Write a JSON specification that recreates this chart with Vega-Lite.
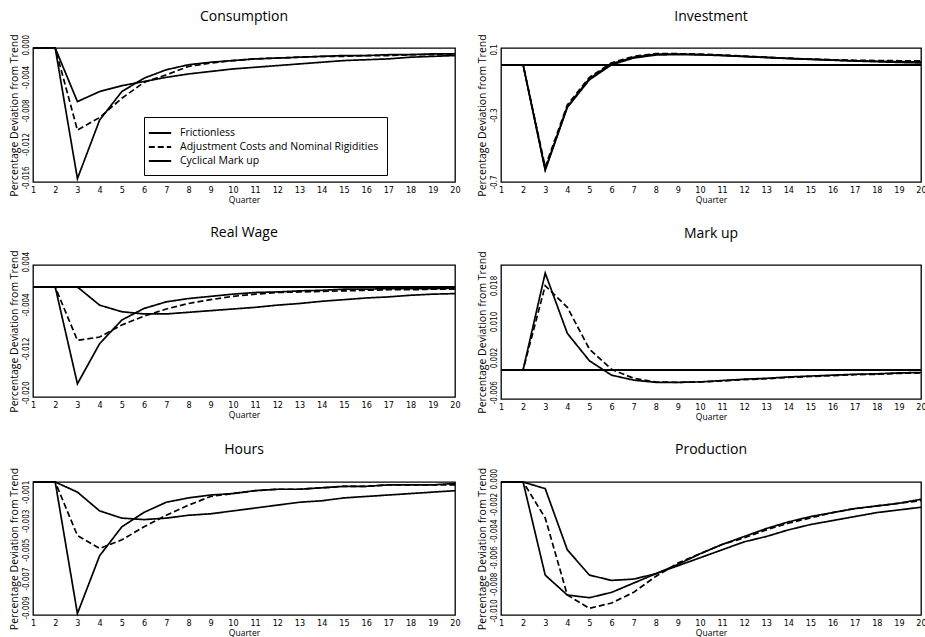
{
  "$schema": "https://vega.github.io/schema/vega-lite/v6.json",
  "background": "white",
  "padding": {"left": 8, "top": 9, "right": 0, "bottom": 0},
  "config": {
    "font": "Open Sans",
    "view": {"stroke": "black", "strokeWidth": 1.3},
    "axis": {
      "grid": false, "ticks": false, "domain": false,
      "labelColor": "black", "titleColor": "black",
      "labelFont": "Liberation Sans Narrow, DejaVu Sans Condensed, sans-serif",
      "titleFont": "Open Sans", "titleFontWeight": "normal",
      "labelOverlap": false
    },
    "axisX": {"labelFontSize": 9, "labelPadding": 3, "titleFontSize": 8.5, "titlePadding": 1, "labelFlush": false},
    "axisY": {"labelFontSize": 8, "labelAngle": 270, "labelAlign": "left", "labelBaseline": "bottom", "labelOffset": 7, "labelPadding": 3, "titleFontSize": 10.5, "titlePadding": 3},
    "title": {"fontSize": 14, "fontWeight": "normal", "font": "Open Sans", "offset": 10, "color": "black"}
  },
  "data": {"values": [
    {"panel":"Consumption","series":"Frictionless","quarter":1,"value":0},
    {"panel":"Consumption","series":"Frictionless","quarter":2,"value":0},
    {"panel":"Consumption","series":"Frictionless","quarter":3,"value":-0.0064},
    {"panel":"Consumption","series":"Frictionless","quarter":4,"value":-0.0052},
    {"panel":"Consumption","series":"Frictionless","quarter":5,"value":-0.0045},
    {"panel":"Consumption","series":"Frictionless","quarter":6,"value":-0.0040},
    {"panel":"Consumption","series":"Frictionless","quarter":7,"value":-0.0035},
    {"panel":"Consumption","series":"Frictionless","quarter":8,"value":-0.0031},
    {"panel":"Consumption","series":"Frictionless","quarter":9,"value":-0.0028},
    {"panel":"Consumption","series":"Frictionless","quarter":10,"value":-0.0025},
    {"panel":"Consumption","series":"Frictionless","quarter":11,"value":-0.0023},
    {"panel":"Consumption","series":"Frictionless","quarter":12,"value":-0.0021},
    {"panel":"Consumption","series":"Frictionless","quarter":13,"value":-0.0019},
    {"panel":"Consumption","series":"Frictionless","quarter":14,"value":-0.0017},
    {"panel":"Consumption","series":"Frictionless","quarter":15,"value":-0.0015},
    {"panel":"Consumption","series":"Frictionless","quarter":16,"value":-0.0014},
    {"panel":"Consumption","series":"Frictionless","quarter":17,"value":-0.0013},
    {"panel":"Consumption","series":"Frictionless","quarter":18,"value":-0.0011},
    {"panel":"Consumption","series":"Frictionless","quarter":19,"value":-0.0010},
    {"panel":"Consumption","series":"Frictionless","quarter":20,"value":-0.0009},
    {"panel":"Consumption","series":"Adjustment Costs and Nominal Rigidities","quarter":1,"value":0},
    {"panel":"Consumption","series":"Adjustment Costs and Nominal Rigidities","quarter":2,"value":0},
    {"panel":"Consumption","series":"Adjustment Costs and Nominal Rigidities","quarter":3,"value":-0.0098},
    {"panel":"Consumption","series":"Adjustment Costs and Nominal Rigidities","quarter":4,"value":-0.0083},
    {"panel":"Consumption","series":"Adjustment Costs and Nominal Rigidities","quarter":5,"value":-0.0060},
    {"panel":"Consumption","series":"Adjustment Costs and Nominal Rigidities","quarter":6,"value":-0.0041},
    {"panel":"Consumption","series":"Adjustment Costs and Nominal Rigidities","quarter":7,"value":-0.0032},
    {"panel":"Consumption","series":"Adjustment Costs and Nominal Rigidities","quarter":8,"value":-0.0022},
    {"panel":"Consumption","series":"Adjustment Costs and Nominal Rigidities","quarter":9,"value":-0.0018},
    {"panel":"Consumption","series":"Adjustment Costs and Nominal Rigidities","quarter":10,"value":-0.0015},
    {"panel":"Consumption","series":"Adjustment Costs and Nominal Rigidities","quarter":11,"value":-0.0013},
    {"panel":"Consumption","series":"Adjustment Costs and Nominal Rigidities","quarter":12,"value":-0.0012},
    {"panel":"Consumption","series":"Adjustment Costs and Nominal Rigidities","quarter":13,"value":-0.0011},
    {"panel":"Consumption","series":"Adjustment Costs and Nominal Rigidities","quarter":14,"value":-0.0010},
    {"panel":"Consumption","series":"Adjustment Costs and Nominal Rigidities","quarter":15,"value":-0.0010},
    {"panel":"Consumption","series":"Adjustment Costs and Nominal Rigidities","quarter":16,"value":-0.0009},
    {"panel":"Consumption","series":"Adjustment Costs and Nominal Rigidities","quarter":17,"value":-0.0009},
    {"panel":"Consumption","series":"Adjustment Costs and Nominal Rigidities","quarter":18,"value":-0.0008},
    {"panel":"Consumption","series":"Adjustment Costs and Nominal Rigidities","quarter":19,"value":-0.0008},
    {"panel":"Consumption","series":"Adjustment Costs and Nominal Rigidities","quarter":20,"value":-0.0008},
    {"panel":"Consumption","series":"Cyclical Mark up","quarter":1,"value":0},
    {"panel":"Consumption","series":"Cyclical Mark up","quarter":2,"value":0},
    {"panel":"Consumption","series":"Cyclical Mark up","quarter":3,"value":-0.0156},
    {"panel":"Consumption","series":"Cyclical Mark up","quarter":4,"value":-0.0086},
    {"panel":"Consumption","series":"Cyclical Mark up","quarter":5,"value":-0.0052},
    {"panel":"Consumption","series":"Cyclical Mark up","quarter":6,"value":-0.0036},
    {"panel":"Consumption","series":"Cyclical Mark up","quarter":7,"value":-0.0026},
    {"panel":"Consumption","series":"Cyclical Mark up","quarter":8,"value":-0.0020},
    {"panel":"Consumption","series":"Cyclical Mark up","quarter":9,"value":-0.0017},
    {"panel":"Consumption","series":"Cyclical Mark up","quarter":10,"value":-0.0015},
    {"panel":"Consumption","series":"Cyclical Mark up","quarter":11,"value":-0.0013},
    {"panel":"Consumption","series":"Cyclical Mark up","quarter":12,"value":-0.0012},
    {"panel":"Consumption","series":"Cyclical Mark up","quarter":13,"value":-0.0011},
    {"panel":"Consumption","series":"Cyclical Mark up","quarter":14,"value":-0.0010},
    {"panel":"Consumption","series":"Cyclical Mark up","quarter":15,"value":-0.0009},
    {"panel":"Consumption","series":"Cyclical Mark up","quarter":16,"value":-0.0009},
    {"panel":"Consumption","series":"Cyclical Mark up","quarter":17,"value":-0.0008},
    {"panel":"Consumption","series":"Cyclical Mark up","quarter":18,"value":-0.0008},
    {"panel":"Consumption","series":"Cyclical Mark up","quarter":19,"value":-0.0007},
    {"panel":"Consumption","series":"Cyclical Mark up","quarter":20,"value":-0.0007},

    {"panel":"Investment","series":"Frictionless","quarter":1,"value":0},
    {"panel":"Investment","series":"Frictionless","quarter":2,"value":0},
    {"panel":"Investment","series":"Frictionless","quarter":3,"value":-0.63},
    {"panel":"Investment","series":"Frictionless","quarter":4,"value":-0.255},
    {"panel":"Investment","series":"Frictionless","quarter":5,"value":-0.09},
    {"panel":"Investment","series":"Frictionless","quarter":6,"value":0.0},
    {"panel":"Investment","series":"Frictionless","quarter":7,"value":0.04},
    {"panel":"Investment","series":"Frictionless","quarter":8,"value":0.058},
    {"panel":"Investment","series":"Frictionless","quarter":9,"value":0.061},
    {"panel":"Investment","series":"Frictionless","quarter":10,"value":0.059},
    {"panel":"Investment","series":"Frictionless","quarter":11,"value":0.055},
    {"panel":"Investment","series":"Frictionless","quarter":12,"value":0.049},
    {"panel":"Investment","series":"Frictionless","quarter":13,"value":0.043},
    {"panel":"Investment","series":"Frictionless","quarter":14,"value":0.037},
    {"panel":"Investment","series":"Frictionless","quarter":15,"value":0.032},
    {"panel":"Investment","series":"Frictionless","quarter":16,"value":0.027},
    {"panel":"Investment","series":"Frictionless","quarter":17,"value":0.022},
    {"panel":"Investment","series":"Frictionless","quarter":18,"value":0.018},
    {"panel":"Investment","series":"Frictionless","quarter":19,"value":0.014},
    {"panel":"Investment","series":"Frictionless","quarter":20,"value":0.011},
    {"panel":"Investment","series":"Adjustment Costs and Nominal Rigidities","quarter":1,"value":0},
    {"panel":"Investment","series":"Adjustment Costs and Nominal Rigidities","quarter":2,"value":0},
    {"panel":"Investment","series":"Adjustment Costs and Nominal Rigidities","quarter":3,"value":-0.61},
    {"panel":"Investment","series":"Adjustment Costs and Nominal Rigidities","quarter":4,"value":-0.24},
    {"panel":"Investment","series":"Adjustment Costs and Nominal Rigidities","quarter":5,"value":-0.075},
    {"panel":"Investment","series":"Adjustment Costs and Nominal Rigidities","quarter":6,"value":0.012},
    {"panel":"Investment","series":"Adjustment Costs and Nominal Rigidities","quarter":7,"value":0.05},
    {"panel":"Investment","series":"Adjustment Costs and Nominal Rigidities","quarter":8,"value":0.066},
    {"panel":"Investment","series":"Adjustment Costs and Nominal Rigidities","quarter":9,"value":0.066},
    {"panel":"Investment","series":"Adjustment Costs and Nominal Rigidities","quarter":10,"value":0.063},
    {"panel":"Investment","series":"Adjustment Costs and Nominal Rigidities","quarter":11,"value":0.058},
    {"panel":"Investment","series":"Adjustment Costs and Nominal Rigidities","quarter":12,"value":0.052},
    {"panel":"Investment","series":"Adjustment Costs and Nominal Rigidities","quarter":13,"value":0.045},
    {"panel":"Investment","series":"Adjustment Costs and Nominal Rigidities","quarter":14,"value":0.039},
    {"panel":"Investment","series":"Adjustment Costs and Nominal Rigidities","quarter":15,"value":0.034},
    {"panel":"Investment","series":"Adjustment Costs and Nominal Rigidities","quarter":16,"value":0.030},
    {"panel":"Investment","series":"Adjustment Costs and Nominal Rigidities","quarter":17,"value":0.027},
    {"panel":"Investment","series":"Adjustment Costs and Nominal Rigidities","quarter":18,"value":0.025},
    {"panel":"Investment","series":"Adjustment Costs and Nominal Rigidities","quarter":19,"value":0.024},
    {"panel":"Investment","series":"Adjustment Costs and Nominal Rigidities","quarter":20,"value":0.023},
    {"panel":"Investment","series":"Cyclical Mark up","quarter":1,"value":0},
    {"panel":"Investment","series":"Cyclical Mark up","quarter":2,"value":0},
    {"panel":"Investment","series":"Cyclical Mark up","quarter":3,"value":-0.625},
    {"panel":"Investment","series":"Cyclical Mark up","quarter":4,"value":-0.25},
    {"panel":"Investment","series":"Cyclical Mark up","quarter":5,"value":-0.083},
    {"panel":"Investment","series":"Cyclical Mark up","quarter":6,"value":0.006},
    {"panel":"Investment","series":"Cyclical Mark up","quarter":7,"value":0.045},
    {"panel":"Investment","series":"Cyclical Mark up","quarter":8,"value":0.063},
    {"panel":"Investment","series":"Cyclical Mark up","quarter":9,"value":0.064},
    {"panel":"Investment","series":"Cyclical Mark up","quarter":10,"value":0.061},
    {"panel":"Investment","series":"Cyclical Mark up","quarter":11,"value":0.056},
    {"panel":"Investment","series":"Cyclical Mark up","quarter":12,"value":0.050},
    {"panel":"Investment","series":"Cyclical Mark up","quarter":13,"value":0.044},
    {"panel":"Investment","series":"Cyclical Mark up","quarter":14,"value":0.038},
    {"panel":"Investment","series":"Cyclical Mark up","quarter":15,"value":0.033},
    {"panel":"Investment","series":"Cyclical Mark up","quarter":16,"value":0.028},
    {"panel":"Investment","series":"Cyclical Mark up","quarter":17,"value":0.024},
    {"panel":"Investment","series":"Cyclical Mark up","quarter":18,"value":0.021},
    {"panel":"Investment","series":"Cyclical Mark up","quarter":19,"value":0.019},
    {"panel":"Investment","series":"Cyclical Mark up","quarter":20,"value":0.017},

    {"panel":"Real Wage","series":"Frictionless","quarter":1,"value":0},
    {"panel":"Real Wage","series":"Frictionless","quarter":2,"value":0},
    {"panel":"Real Wage","series":"Frictionless","quarter":3,"value":0},
    {"panel":"Real Wage","series":"Frictionless","quarter":4,"value":-0.0033},
    {"panel":"Real Wage","series":"Frictionless","quarter":5,"value":-0.0045},
    {"panel":"Real Wage","series":"Frictionless","quarter":6,"value":-0.0049},
    {"panel":"Real Wage","series":"Frictionless","quarter":7,"value":-0.0049},
    {"panel":"Real Wage","series":"Frictionless","quarter":8,"value":-0.0046},
    {"panel":"Real Wage","series":"Frictionless","quarter":9,"value":-0.0043},
    {"panel":"Real Wage","series":"Frictionless","quarter":10,"value":-0.0040},
    {"panel":"Real Wage","series":"Frictionless","quarter":11,"value":-0.0037},
    {"panel":"Real Wage","series":"Frictionless","quarter":12,"value":-0.0033},
    {"panel":"Real Wage","series":"Frictionless","quarter":13,"value":-0.0030},
    {"panel":"Real Wage","series":"Frictionless","quarter":14,"value":-0.0026},
    {"panel":"Real Wage","series":"Frictionless","quarter":15,"value":-0.0023},
    {"panel":"Real Wage","series":"Frictionless","quarter":16,"value":-0.0020},
    {"panel":"Real Wage","series":"Frictionless","quarter":17,"value":-0.0018},
    {"panel":"Real Wage","series":"Frictionless","quarter":18,"value":-0.0015},
    {"panel":"Real Wage","series":"Frictionless","quarter":19,"value":-0.0013},
    {"panel":"Real Wage","series":"Frictionless","quarter":20,"value":-0.0012},
    {"panel":"Real Wage","series":"Adjustment Costs and Nominal Rigidities","quarter":1,"value":0},
    {"panel":"Real Wage","series":"Adjustment Costs and Nominal Rigidities","quarter":2,"value":0},
    {"panel":"Real Wage","series":"Adjustment Costs and Nominal Rigidities","quarter":3,"value":-0.0097},
    {"panel":"Real Wage","series":"Adjustment Costs and Nominal Rigidities","quarter":4,"value":-0.0091},
    {"panel":"Real Wage","series":"Adjustment Costs and Nominal Rigidities","quarter":5,"value":-0.0069},
    {"panel":"Real Wage","series":"Adjustment Costs and Nominal Rigidities","quarter":6,"value":-0.0053},
    {"panel":"Real Wage","series":"Adjustment Costs and Nominal Rigidities","quarter":7,"value":-0.0040},
    {"panel":"Real Wage","series":"Adjustment Costs and Nominal Rigidities","quarter":8,"value":-0.0030},
    {"panel":"Real Wage","series":"Adjustment Costs and Nominal Rigidities","quarter":9,"value":-0.0023},
    {"panel":"Real Wage","series":"Adjustment Costs and Nominal Rigidities","quarter":10,"value":-0.0017},
    {"panel":"Real Wage","series":"Adjustment Costs and Nominal Rigidities","quarter":11,"value":-0.0013},
    {"panel":"Real Wage","series":"Adjustment Costs and Nominal Rigidities","quarter":12,"value":-0.0010},
    {"panel":"Real Wage","series":"Adjustment Costs and Nominal Rigidities","quarter":13,"value":-0.0009},
    {"panel":"Real Wage","series":"Adjustment Costs and Nominal Rigidities","quarter":14,"value":-0.0008},
    {"panel":"Real Wage","series":"Adjustment Costs and Nominal Rigidities","quarter":15,"value":-0.0007},
    {"panel":"Real Wage","series":"Adjustment Costs and Nominal Rigidities","quarter":16,"value":-0.0006},
    {"panel":"Real Wage","series":"Adjustment Costs and Nominal Rigidities","quarter":17,"value":-0.0005},
    {"panel":"Real Wage","series":"Adjustment Costs and Nominal Rigidities","quarter":18,"value":-0.0005},
    {"panel":"Real Wage","series":"Adjustment Costs and Nominal Rigidities","quarter":19,"value":-0.0004},
    {"panel":"Real Wage","series":"Adjustment Costs and Nominal Rigidities","quarter":20,"value":-0.0004},
    {"panel":"Real Wage","series":"Cyclical Mark up","quarter":1,"value":0},
    {"panel":"Real Wage","series":"Cyclical Mark up","quarter":2,"value":0},
    {"panel":"Real Wage","series":"Cyclical Mark up","quarter":3,"value":-0.0176},
    {"panel":"Real Wage","series":"Cyclical Mark up","quarter":4,"value":-0.0103},
    {"panel":"Real Wage","series":"Cyclical Mark up","quarter":5,"value":-0.0060},
    {"panel":"Real Wage","series":"Cyclical Mark up","quarter":6,"value":-0.0039},
    {"panel":"Real Wage","series":"Cyclical Mark up","quarter":7,"value":-0.0027},
    {"panel":"Real Wage","series":"Cyclical Mark up","quarter":8,"value":-0.0021},
    {"panel":"Real Wage","series":"Cyclical Mark up","quarter":9,"value":-0.0017},
    {"panel":"Real Wage","series":"Cyclical Mark up","quarter":10,"value":-0.0013},
    {"panel":"Real Wage","series":"Cyclical Mark up","quarter":11,"value":-0.0010},
    {"panel":"Real Wage","series":"Cyclical Mark up","quarter":12,"value":-0.0009},
    {"panel":"Real Wage","series":"Cyclical Mark up","quarter":13,"value":-0.0007},
    {"panel":"Real Wage","series":"Cyclical Mark up","quarter":14,"value":-0.0006},
    {"panel":"Real Wage","series":"Cyclical Mark up","quarter":15,"value":-0.0004},
    {"panel":"Real Wage","series":"Cyclical Mark up","quarter":16,"value":-0.0004},
    {"panel":"Real Wage","series":"Cyclical Mark up","quarter":17,"value":-0.0003},
    {"panel":"Real Wage","series":"Cyclical Mark up","quarter":18,"value":-0.0003},
    {"panel":"Real Wage","series":"Cyclical Mark up","quarter":19,"value":-0.0003},
    {"panel":"Real Wage","series":"Cyclical Mark up","quarter":20,"value":-0.0002},

    {"panel":"Mark up","series":"Frictionless","quarter":1,"value":0},
    {"panel":"Mark up","series":"Frictionless","quarter":2,"value":0},
    {"panel":"Mark up","series":"Frictionless","quarter":3,"value":0},
    {"panel":"Mark up","series":"Frictionless","quarter":4,"value":0},
    {"panel":"Mark up","series":"Frictionless","quarter":5,"value":0},
    {"panel":"Mark up","series":"Frictionless","quarter":6,"value":0},
    {"panel":"Mark up","series":"Frictionless","quarter":7,"value":0},
    {"panel":"Mark up","series":"Frictionless","quarter":8,"value":0},
    {"panel":"Mark up","series":"Frictionless","quarter":9,"value":0},
    {"panel":"Mark up","series":"Frictionless","quarter":10,"value":0},
    {"panel":"Mark up","series":"Frictionless","quarter":11,"value":0},
    {"panel":"Mark up","series":"Frictionless","quarter":12,"value":0},
    {"panel":"Mark up","series":"Frictionless","quarter":13,"value":0},
    {"panel":"Mark up","series":"Frictionless","quarter":14,"value":0},
    {"panel":"Mark up","series":"Frictionless","quarter":15,"value":0},
    {"panel":"Mark up","series":"Frictionless","quarter":16,"value":0},
    {"panel":"Mark up","series":"Frictionless","quarter":17,"value":0},
    {"panel":"Mark up","series":"Frictionless","quarter":18,"value":0},
    {"panel":"Mark up","series":"Frictionless","quarter":19,"value":0},
    {"panel":"Mark up","series":"Frictionless","quarter":20,"value":0},
    {"panel":"Mark up","series":"Adjustment Costs and Nominal Rigidities","quarter":1,"value":0},
    {"panel":"Mark up","series":"Adjustment Costs and Nominal Rigidities","quarter":2,"value":0},
    {"panel":"Mark up","series":"Adjustment Costs and Nominal Rigidities","quarter":3,"value":0.0187},
    {"panel":"Mark up","series":"Adjustment Costs and Nominal Rigidities","quarter":4,"value":0.0139},
    {"panel":"Mark up","series":"Adjustment Costs and Nominal Rigidities","quarter":5,"value":0.0046},
    {"panel":"Mark up","series":"Adjustment Costs and Nominal Rigidities","quarter":6,"value":0.0001},
    {"panel":"Mark up","series":"Adjustment Costs and Nominal Rigidities","quarter":7,"value":-0.0019},
    {"panel":"Mark up","series":"Adjustment Costs and Nominal Rigidities","quarter":8,"value":-0.0027},
    {"panel":"Mark up","series":"Adjustment Costs and Nominal Rigidities","quarter":9,"value":-0.0028},
    {"panel":"Mark up","series":"Adjustment Costs and Nominal Rigidities","quarter":10,"value":-0.0027},
    {"panel":"Mark up","series":"Adjustment Costs and Nominal Rigidities","quarter":11,"value":-0.0025},
    {"panel":"Mark up","series":"Adjustment Costs and Nominal Rigidities","quarter":12,"value":-0.0022},
    {"panel":"Mark up","series":"Adjustment Costs and Nominal Rigidities","quarter":13,"value":-0.0020},
    {"panel":"Mark up","series":"Adjustment Costs and Nominal Rigidities","quarter":14,"value":-0.0017},
    {"panel":"Mark up","series":"Adjustment Costs and Nominal Rigidities","quarter":15,"value":-0.0015},
    {"panel":"Mark up","series":"Adjustment Costs and Nominal Rigidities","quarter":16,"value":-0.0013},
    {"panel":"Mark up","series":"Adjustment Costs and Nominal Rigidities","quarter":17,"value":-0.0011},
    {"panel":"Mark up","series":"Adjustment Costs and Nominal Rigidities","quarter":18,"value":-0.0010},
    {"panel":"Mark up","series":"Adjustment Costs and Nominal Rigidities","quarter":19,"value":-0.0008},
    {"panel":"Mark up","series":"Adjustment Costs and Nominal Rigidities","quarter":20,"value":-0.0007},
    {"panel":"Mark up","series":"Cyclical Mark up","quarter":1,"value":0},
    {"panel":"Mark up","series":"Cyclical Mark up","quarter":2,"value":0},
    {"panel":"Mark up","series":"Cyclical Mark up","quarter":3,"value":0.0215},
    {"panel":"Mark up","series":"Cyclical Mark up","quarter":4,"value":0.0081},
    {"panel":"Mark up","series":"Cyclical Mark up","quarter":5,"value":0.0020},
    {"panel":"Mark up","series":"Cyclical Mark up","quarter":6,"value":-0.0012},
    {"panel":"Mark up","series":"Cyclical Mark up","quarter":7,"value":-0.0023},
    {"panel":"Mark up","series":"Cyclical Mark up","quarter":8,"value":-0.0028},
    {"panel":"Mark up","series":"Cyclical Mark up","quarter":9,"value":-0.0028},
    {"panel":"Mark up","series":"Cyclical Mark up","quarter":10,"value":-0.0027},
    {"panel":"Mark up","series":"Cyclical Mark up","quarter":11,"value":-0.0024},
    {"panel":"Mark up","series":"Cyclical Mark up","quarter":12,"value":-0.0021},
    {"panel":"Mark up","series":"Cyclical Mark up","quarter":13,"value":-0.0019},
    {"panel":"Mark up","series":"Cyclical Mark up","quarter":14,"value":-0.0016},
    {"panel":"Mark up","series":"Cyclical Mark up","quarter":15,"value":-0.0014},
    {"panel":"Mark up","series":"Cyclical Mark up","quarter":16,"value":-0.0012},
    {"panel":"Mark up","series":"Cyclical Mark up","quarter":17,"value":-0.0010},
    {"panel":"Mark up","series":"Cyclical Mark up","quarter":18,"value":-0.0009},
    {"panel":"Mark up","series":"Cyclical Mark up","quarter":19,"value":-0.0007},
    {"panel":"Mark up","series":"Cyclical Mark up","quarter":20,"value":-0.0006},

    {"panel":"Hours","series":"Frictionless","quarter":1,"value":0},
    {"panel":"Hours","series":"Frictionless","quarter":2,"value":0},
    {"panel":"Hours","series":"Frictionless","quarter":3,"value":-0.0007},
    {"panel":"Hours","series":"Frictionless","quarter":4,"value":-0.0020},
    {"panel":"Hours","series":"Frictionless","quarter":5,"value":-0.0025},
    {"panel":"Hours","series":"Frictionless","quarter":6,"value":-0.0026},
    {"panel":"Hours","series":"Frictionless","quarter":7,"value":-0.0025},
    {"panel":"Hours","series":"Frictionless","quarter":8,"value":-0.0023},
    {"panel":"Hours","series":"Frictionless","quarter":9,"value":-0.0022},
    {"panel":"Hours","series":"Frictionless","quarter":10,"value":-0.0020},
    {"panel":"Hours","series":"Frictionless","quarter":11,"value":-0.0018},
    {"panel":"Hours","series":"Frictionless","quarter":12,"value":-0.0016},
    {"panel":"Hours","series":"Frictionless","quarter":13,"value":-0.0014},
    {"panel":"Hours","series":"Frictionless","quarter":14,"value":-0.0013},
    {"panel":"Hours","series":"Frictionless","quarter":15,"value":-0.0011},
    {"panel":"Hours","series":"Frictionless","quarter":16,"value":-0.0010},
    {"panel":"Hours","series":"Frictionless","quarter":17,"value":-0.0009},
    {"panel":"Hours","series":"Frictionless","quarter":18,"value":-0.0008},
    {"panel":"Hours","series":"Frictionless","quarter":19,"value":-0.0007},
    {"panel":"Hours","series":"Frictionless","quarter":20,"value":-0.0006},
    {"panel":"Hours","series":"Adjustment Costs and Nominal Rigidities","quarter":1,"value":0},
    {"panel":"Hours","series":"Adjustment Costs and Nominal Rigidities","quarter":2,"value":0},
    {"panel":"Hours","series":"Adjustment Costs and Nominal Rigidities","quarter":3,"value":-0.0037},
    {"panel":"Hours","series":"Adjustment Costs and Nominal Rigidities","quarter":4,"value":-0.0046},
    {"panel":"Hours","series":"Adjustment Costs and Nominal Rigidities","quarter":5,"value":-0.0040},
    {"panel":"Hours","series":"Adjustment Costs and Nominal Rigidities","quarter":6,"value":-0.0031},
    {"panel":"Hours","series":"Adjustment Costs and Nominal Rigidities","quarter":7,"value":-0.0023},
    {"panel":"Hours","series":"Adjustment Costs and Nominal Rigidities","quarter":8,"value":-0.0016},
    {"panel":"Hours","series":"Adjustment Costs and Nominal Rigidities","quarter":9,"value":-0.0010},
    {"panel":"Hours","series":"Adjustment Costs and Nominal Rigidities","quarter":10,"value":-0.0008},
    {"panel":"Hours","series":"Adjustment Costs and Nominal Rigidities","quarter":11,"value":-0.0006},
    {"panel":"Hours","series":"Adjustment Costs and Nominal Rigidities","quarter":12,"value":-0.0005},
    {"panel":"Hours","series":"Adjustment Costs and Nominal Rigidities","quarter":13,"value":-0.0005},
    {"panel":"Hours","series":"Adjustment Costs and Nominal Rigidities","quarter":14,"value":-0.0004},
    {"panel":"Hours","series":"Adjustment Costs and Nominal Rigidities","quarter":15,"value":-0.0003},
    {"panel":"Hours","series":"Adjustment Costs and Nominal Rigidities","quarter":16,"value":-0.0003},
    {"panel":"Hours","series":"Adjustment Costs and Nominal Rigidities","quarter":17,"value":-0.0002},
    {"panel":"Hours","series":"Adjustment Costs and Nominal Rigidities","quarter":18,"value":-0.0002},
    {"panel":"Hours","series":"Adjustment Costs and Nominal Rigidities","quarter":19,"value":-0.0002},
    {"panel":"Hours","series":"Adjustment Costs and Nominal Rigidities","quarter":20,"value":-0.0002},
    {"panel":"Hours","series":"Cyclical Mark up","quarter":1,"value":0},
    {"panel":"Hours","series":"Cyclical Mark up","quarter":2,"value":0},
    {"panel":"Hours","series":"Cyclical Mark up","quarter":3,"value":-0.0091},
    {"panel":"Hours","series":"Cyclical Mark up","quarter":4,"value":-0.0051},
    {"panel":"Hours","series":"Cyclical Mark up","quarter":5,"value":-0.0031},
    {"panel":"Hours","series":"Cyclical Mark up","quarter":6,"value":-0.0021},
    {"panel":"Hours","series":"Cyclical Mark up","quarter":7,"value":-0.0014},
    {"panel":"Hours","series":"Cyclical Mark up","quarter":8,"value":-0.0011},
    {"panel":"Hours","series":"Cyclical Mark up","quarter":9,"value":-0.0009},
    {"panel":"Hours","series":"Cyclical Mark up","quarter":10,"value":-0.0008},
    {"panel":"Hours","series":"Cyclical Mark up","quarter":11,"value":-0.0006},
    {"panel":"Hours","series":"Cyclical Mark up","quarter":12,"value":-0.0005},
    {"panel":"Hours","series":"Cyclical Mark up","quarter":13,"value":-0.0005},
    {"panel":"Hours","series":"Cyclical Mark up","quarter":14,"value":-0.0004},
    {"panel":"Hours","series":"Cyclical Mark up","quarter":15,"value":-0.0003},
    {"panel":"Hours","series":"Cyclical Mark up","quarter":16,"value":-0.0003},
    {"panel":"Hours","series":"Cyclical Mark up","quarter":17,"value":-0.0002},
    {"panel":"Hours","series":"Cyclical Mark up","quarter":18,"value":-0.0002},
    {"panel":"Hours","series":"Cyclical Mark up","quarter":19,"value":-0.0002},
    {"panel":"Hours","series":"Cyclical Mark up","quarter":20,"value":-0.0001},

    {"panel":"Production","series":"Frictionless","quarter":1,"value":0},
    {"panel":"Production","series":"Frictionless","quarter":2,"value":0},
    {"panel":"Production","series":"Frictionless","quarter":3,"value":-0.0005},
    {"panel":"Production","series":"Frictionless","quarter":4,"value":-0.0051},
    {"panel":"Production","series":"Frictionless","quarter":5,"value":-0.0070},
    {"panel":"Production","series":"Frictionless","quarter":6,"value":-0.0074},
    {"panel":"Production","series":"Frictionless","quarter":7,"value":-0.0073},
    {"panel":"Production","series":"Frictionless","quarter":8,"value":-0.0069},
    {"panel":"Production","series":"Frictionless","quarter":9,"value":-0.0063},
    {"panel":"Production","series":"Frictionless","quarter":10,"value":-0.0057},
    {"panel":"Production","series":"Frictionless","quarter":11,"value":-0.0051},
    {"panel":"Production","series":"Frictionless","quarter":12,"value":-0.0045},
    {"panel":"Production","series":"Frictionless","quarter":13,"value":-0.0041},
    {"panel":"Production","series":"Frictionless","quarter":14,"value":-0.0036},
    {"panel":"Production","series":"Frictionless","quarter":15,"value":-0.0032},
    {"panel":"Production","series":"Frictionless","quarter":16,"value":-0.0029},
    {"panel":"Production","series":"Frictionless","quarter":17,"value":-0.0026},
    {"panel":"Production","series":"Frictionless","quarter":18,"value":-0.0023},
    {"panel":"Production","series":"Frictionless","quarter":19,"value":-0.0021},
    {"panel":"Production","series":"Frictionless","quarter":20,"value":-0.0019},
    {"panel":"Production","series":"Adjustment Costs and Nominal Rigidities","quarter":1,"value":0},
    {"panel":"Production","series":"Adjustment Costs and Nominal Rigidities","quarter":2,"value":0},
    {"panel":"Production","series":"Adjustment Costs and Nominal Rigidities","quarter":3,"value":-0.0027},
    {"panel":"Production","series":"Adjustment Costs and Nominal Rigidities","quarter":4,"value":-0.0085},
    {"panel":"Production","series":"Adjustment Costs and Nominal Rigidities","quarter":5,"value":-0.0095},
    {"panel":"Production","series":"Adjustment Costs and Nominal Rigidities","quarter":6,"value":-0.0091},
    {"panel":"Production","series":"Adjustment Costs and Nominal Rigidities","quarter":7,"value":-0.0083},
    {"panel":"Production","series":"Adjustment Costs and Nominal Rigidities","quarter":8,"value":-0.0071},
    {"panel":"Production","series":"Adjustment Costs and Nominal Rigidities","quarter":9,"value":-0.0061},
    {"panel":"Production","series":"Adjustment Costs and Nominal Rigidities","quarter":10,"value":-0.0054},
    {"panel":"Production","series":"Adjustment Costs and Nominal Rigidities","quarter":11,"value":-0.0047},
    {"panel":"Production","series":"Adjustment Costs and Nominal Rigidities","quarter":12,"value":-0.0042},
    {"panel":"Production","series":"Adjustment Costs and Nominal Rigidities","quarter":13,"value":-0.0036},
    {"panel":"Production","series":"Adjustment Costs and Nominal Rigidities","quarter":14,"value":-0.0031},
    {"panel":"Production","series":"Adjustment Costs and Nominal Rigidities","quarter":15,"value":-0.0027},
    {"panel":"Production","series":"Adjustment Costs and Nominal Rigidities","quarter":16,"value":-0.0023},
    {"panel":"Production","series":"Adjustment Costs and Nominal Rigidities","quarter":17,"value":-0.0020},
    {"panel":"Production","series":"Adjustment Costs and Nominal Rigidities","quarter":18,"value":-0.0018},
    {"panel":"Production","series":"Adjustment Costs and Nominal Rigidities","quarter":19,"value":-0.0016},
    {"panel":"Production","series":"Adjustment Costs and Nominal Rigidities","quarter":20,"value":-0.0014},
    {"panel":"Production","series":"Cyclical Mark up","quarter":1,"value":0},
    {"panel":"Production","series":"Cyclical Mark up","quarter":2,"value":0},
    {"panel":"Production","series":"Cyclical Mark up","quarter":3,"value":-0.0070},
    {"panel":"Production","series":"Cyclical Mark up","quarter":4,"value":-0.0085},
    {"panel":"Production","series":"Cyclical Mark up","quarter":5,"value":-0.0087},
    {"panel":"Production","series":"Cyclical Mark up","quarter":6,"value":-0.0083},
    {"panel":"Production","series":"Cyclical Mark up","quarter":7,"value":-0.0076},
    {"panel":"Production","series":"Cyclical Mark up","quarter":8,"value":-0.0069},
    {"panel":"Production","series":"Cyclical Mark up","quarter":9,"value":-0.0062},
    {"panel":"Production","series":"Cyclical Mark up","quarter":10,"value":-0.0054},
    {"panel":"Production","series":"Cyclical Mark up","quarter":11,"value":-0.0047},
    {"panel":"Production","series":"Cyclical Mark up","quarter":12,"value":-0.0041},
    {"panel":"Production","series":"Cyclical Mark up","quarter":13,"value":-0.0035},
    {"panel":"Production","series":"Cyclical Mark up","quarter":14,"value":-0.0030},
    {"panel":"Production","series":"Cyclical Mark up","quarter":15,"value":-0.0026},
    {"panel":"Production","series":"Cyclical Mark up","quarter":16,"value":-0.0023},
    {"panel":"Production","series":"Cyclical Mark up","quarter":17,"value":-0.0020},
    {"panel":"Production","series":"Cyclical Mark up","quarter":18,"value":-0.0018},
    {"panel":"Production","series":"Cyclical Mark up","quarter":19,"value":-0.0016},
    {"panel":"Production","series":"Cyclical Mark up","quarter":20,"value":-0.0013}
  ]},
  "columns": 2,
  "spacing": {"row": 20, "column": 15},
  "resolve": {"scale": {"strokeDash": "independent"}, "legend": {"strokeDash": "independent"}},
  "concat": [
    {
      "title": "Consumption", "width": 422, "height": 134,
      "transform": [{"filter": "datum.panel == 'Consumption'"}],
      "layer": [
        {"mark": {"type": "line", "color": "black", "strokeWidth": 1.7},
         "encoding": {
           "x": {"field": "quarter", "type": "quantitative", "scale": {"domain": [1, 20], "nice": false}, "axis": {"values": [1,2,3,4,5,6,7,8,9,10,11,12,13,14,15,16,17,18,19,20], "format": "d", "title": "Quarter"}},
           "y": {"field": "value", "type": "quantitative", "scale": {"domain": [-0.016, 0], "nice": false, "zero": false}, "axis": {"values": [0, -0.004, -0.008, -0.012, -0.016], "format": ".3f", "labelExpr": "replace(datum.label, '\u2212', '-')", "title": "Percentage Deviation from Trend"}},
           "strokeDash": {"field": "series", "type": "nominal", "scale": {"domain": ["Frictionless", "Adjustment Costs and Nominal Rigidities", "Cyclical Mark up"], "range": [[1, 0], [6, 3], [1, 0]]},
             "legend": {"title": null, "orient": "none", "legendX": 111, "legendY": 69, "strokeColor": "black", "fillColor": "white", "padding": 8, "labelFontSize": 10.5, "labelFont": "Open Sans", "labelColor": "black", "labelLimit": 400, "symbolType": "M-1.6,0H1.6", "symbolStrokeWidth": 1.8, "symbolSize": 196, "symbolStrokeColor": "black", "symbolFillColor": "transparent", "rowPadding": 0, "labelOffset": 12}}
         }}
      ]
    },
    {
      "title": "Investment", "width": 420, "height": 134,
      "transform": [{"filter": "datum.panel == 'Investment'"}],
      "layer": [
        {"mark": {"type": "rule", "color": "black", "strokeWidth": 1}, "encoding": {"y": {"datum": 0, "type": "quantitative"}}},
        {"mark": {"type": "line", "color": "black", "strokeWidth": 1.7},
         "encoding": {
           "x": {"field": "quarter", "type": "quantitative", "scale": {"domain": [1, 20], "nice": false}, "axis": {"values": [1,2,3,4,5,6,7,8,9,10,11,12,13,14,15,16,17,18,19,20], "format": "d", "title": "Quarter"}},
           "y": {"field": "value", "type": "quantitative", "scale": {"domain": [-0.7, 0.1], "nice": false, "zero": false}, "axis": {"values": [0.1, -0.1, -0.3, -0.5, -0.7], "format": ".1f", "labelExpr": "replace(datum.label, '\u2212', '-')", "title": "Percentage Deviation from Trend"}},
           "strokeDash": {"field": "series", "type": "nominal", "scale": {"domain": ["Frictionless", "Adjustment Costs and Nominal Rigidities", "Cyclical Mark up"], "range": [[1, 0], [6, 3], [1, 0]]}, "legend": null}
         }}
      ]
    },
    {
      "title": "Real Wage", "width": 422, "height": 132,
      "transform": [{"filter": "datum.panel == 'Real Wage'"}],
      "layer": [
        {"mark": {"type": "rule", "color": "black", "strokeWidth": 1}, "encoding": {"y": {"datum": 0, "type": "quantitative"}}},
        {"mark": {"type": "line", "color": "black", "strokeWidth": 1.7},
         "encoding": {
           "x": {"field": "quarter", "type": "quantitative", "scale": {"domain": [1, 20], "nice": false}, "axis": {"values": [1,2,3,4,5,6,7,8,9,10,11,12,13,14,15,16,17,18,19,20], "format": "d", "title": "Quarter"}},
           "y": {"field": "value", "type": "quantitative", "scale": {"domain": [-0.020, 0.004], "nice": false, "zero": false}, "axis": {"values": [0.004, -0.004, -0.012, -0.020], "format": ".3f", "labelExpr": "replace(datum.label, '\u2212', '-')", "title": "Percentage Deviation from Trend"}},
           "strokeDash": {"field": "series", "type": "nominal", "scale": {"domain": ["Frictionless", "Adjustment Costs and Nominal Rigidities", "Cyclical Mark up"], "range": [[1, 0], [6, 3], [1, 0]]}, "legend": null}
         }}
      ]
    },
    {
      "title": "Mark up", "width": 420, "height": 134,
      "transform": [{"filter": "datum.panel == 'Mark up'"}],
      "layer": [
        {"mark": {"type": "rule", "color": "black", "strokeWidth": 1.3}, "encoding": {"y": {"datum": 0, "type": "quantitative"}}},
        {"mark": {"type": "line", "color": "black", "strokeWidth": 1.7},
         "encoding": {
           "x": {"field": "quarter", "type": "quantitative", "scale": {"domain": [1, 20], "nice": false}, "axis": {"values": [1,2,3,4,5,6,7,8,9,10,11,12,13,14,15,16,17,18,19,20], "format": "d", "title": "Quarter"}},
           "y": {"field": "value", "type": "quantitative", "scale": {"domain": [-0.0065, 0.0233], "nice": false, "zero": false}, "axis": {"values": [0.018, 0.010, 0.002, -0.006], "format": ".3f", "labelExpr": "replace(datum.label, '\u2212', '-')", "title": "Percentage Deviation from Trend"}},
           "strokeDash": {"field": "series", "type": "nominal", "scale": {"domain": ["Frictionless", "Adjustment Costs and Nominal Rigidities", "Cyclical Mark up"], "range": [[1, 0], [6, 3], [1, 0]]}, "legend": null}
         }}
      ]
    },
    {
      "title": "Hours", "width": 422, "height": 133,
      "transform": [{"filter": "datum.panel == 'Hours'"}],
      "layer": [
        {"mark": {"type": "line", "color": "black", "strokeWidth": 1.7},
         "encoding": {
           "x": {"field": "quarter", "type": "quantitative", "scale": {"domain": [1, 20], "nice": false}, "axis": {"values": [1,2,3,4,5,6,7,8,9,10,11,12,13,14,15,16,17,18,19,20], "format": "d", "title": "Quarter"}},
           "y": {"field": "value", "type": "quantitative", "scale": {"domain": [-0.0092, 0], "nice": false, "zero": false}, "axis": {"values": [-0.001, -0.003, -0.005, -0.007, -0.009], "format": ".3f", "labelExpr": "replace(datum.label, '\u2212', '-')", "title": "Percentage Deviation from Trend"}},
           "strokeDash": {"field": "series", "type": "nominal", "scale": {"domain": ["Frictionless", "Adjustment Costs and Nominal Rigidities", "Cyclical Mark up"], "range": [[1, 0], [6, 3], [1, 0]]}, "legend": null}
         }}
      ]
    },
    {
      "title": "Production", "width": 420, "height": 133,
      "transform": [{"filter": "datum.panel == 'Production'"}],
      "layer": [
        {"mark": {"type": "line", "color": "black", "strokeWidth": 1.7},
         "encoding": {
           "x": {"field": "quarter", "type": "quantitative", "scale": {"domain": [1, 20], "nice": false}, "axis": {"values": [1,2,3,4,5,6,7,8,9,10,11,12,13,14,15,16,17,18,19,20], "format": "d", "title": "Quarter"}},
           "y": {"field": "value", "type": "quantitative", "scale": {"domain": [-0.010, 0], "nice": false, "zero": false}, "axis": {"values": [0, -0.002, -0.004, -0.006, -0.008, -0.010], "format": ".3f", "labelExpr": "replace(datum.label, '\u2212', '-')", "title": "Percentage Deviation from Trend"}},
           "strokeDash": {"field": "series", "type": "nominal", "scale": {"domain": ["Frictionless", "Adjustment Costs and Nominal Rigidities", "Cyclical Mark up"], "range": [[1, 0], [6, 3], [1, 0]]}, "legend": null}
         }}
      ]
    }
  ]
}
